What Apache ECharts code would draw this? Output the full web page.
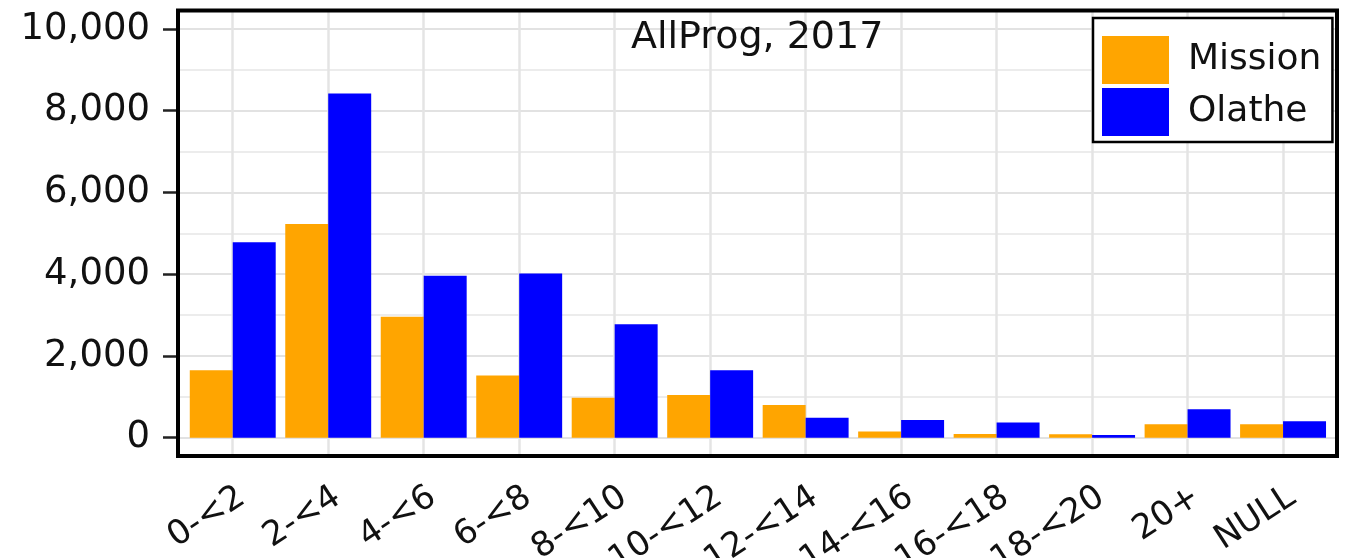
<!DOCTYPE html>
<html lang="en">
<head>
<meta charset="UTF-8">
<title>AllProg, 2017</title>
<script src="https://cdn.jsdelivr.net/npm/echarts@6/dist/echarts.min.js"></script>
<style>body{margin:0;background:#fff;}</style>
</head>
<body>
<div id="main" style="width:1345px;height:558px;"></div>
<script>
// data
var categories = ['0-<2', '2-<4', '4-<6', '6-<8', '8-<10', '10-<12', '12-<14', '14-<16', '16-<18', '18-<20', '20+', 'NULL'];
var mission = [1650, 5230, 2960, 1520, 980, 1045, 800, 150, 90, 85, 330, 330];
var olathe = [4780, 8420, 3960, 4020, 2775, 1650, 490, 435, 370, 65, 695, 400];
var seriesNames = ['Mission', 'Olathe'];

var font = 'DejaVu Sans';
var chart = echarts.init(document.getElementById('main'));

chart.setOption({
    animation: false,
    backgroundColor: '#fff',
    title: {
        text: 'AllProg, 2017',
        left: 631, top: 19, padding: 0,
        textStyle: {fontFamily: font, fontSize: 38, fontWeight: 'normal', color: '#111'}
    },
    legend: {
        data: seriesNames,
        orient: 'vertical',
        left: 1093, top: 18,
        itemWidth: 67, itemHeight: 48, itemGap: 4,
        padding: [18, 11, 6, 9],
        icon: 'rect',
        selectedMode: false,
        backgroundColor: '#fff',
        borderColor: '#000', borderWidth: 2.5,
        textStyle: {fontFamily: font, fontSize: 36, color: '#111', padding: [8, 0, 0, 14]}
    },
    grid: [
        {left: 185, right: 14.2, top: 29, bottom: 120.3, outerBoundsMode: 'none', containLabel: false},   // bars
        {left: 178, right: 8, top: 29, bottom: 120.3, outerBoundsMode: 'none', containLabel: false},      // horizontal grid lines
        {left: 232.7, right: 62, top: 10.5, bottom: 102, outerBoundsMode: 'none', containLabel: false}    // vertical grid lines
    ],
    xAxis: [
        {
            type: 'category', gridIndex: 0, data: categories,
            offset: 18.3,
            axisLine: {show: false},
            axisTick: {alignWithLabel: true, length: 10, lineStyle: {color: '#222', width: 2.5}},
            axisLabel: {interval: 0, rotate: 33, margin: 24, verticalAlign: 'top', fontFamily: font, fontSize: 34, color: '#111'},
            splitLine: {show: false}
        },
        {
            type: 'value', gridIndex: 1,
            axisLine: {show: false}, axisTick: {show: false}, axisLabel: {show: false}, splitLine: {show: false}
        },
        {
            type: 'category', gridIndex: 2, data: categories, boundaryGap: false,
            axisLine: {show: false}, axisTick: {show: false}, axisLabel: {show: false},
            splitLine: {show: true, interval: 0, lineStyle: {color: '#e4e4e4', width: 2.5}}
        }
    ],
    yAxis: [
        {
            type: 'value', gridIndex: 0, min: 0, max: 10000, interval: 2000,
            offset: 7,
            axisLine: {show: false},
            axisTick: {show: true, length: 15, lineStyle: {color: '#222', width: 2.5}},
            axisLabel: {
                margin: 28, fontFamily: font, fontSize: 37, color: '#111',
                formatter: function (v) { return v.toLocaleString('en-US'); }
            },
            splitLine: {show: false}
        },
        {
            type: 'value', gridIndex: 1, min: 0, max: 10000, interval: 1000,
            axisLine: {show: false}, axisTick: {show: false}, axisLabel: {show: false},
            splitLine: {show: true, lineStyle: {color: ['#e2e2e2', '#ececec'], width: 2}}
        },
        {
            type: 'value', gridIndex: 2,
            axisLine: {show: false}, axisTick: {show: false}, axisLabel: {show: false}, splitLine: {show: false}
        }
    ],
    series: [
        {
            name: seriesNames[0], type: 'bar', data: mission,
            xAxisIndex: 0, yAxisIndex: 0,
            barGap: '0%', barCategoryGap: '10%',
            itemStyle: {color: '#FFA500'}
        },
        {
            name: seriesNames[1], type: 'bar', data: olathe,
            xAxisIndex: 0, yAxisIndex: 0,
            barGap: '0%', barCategoryGap: '10%',
            itemStyle: {color: '#0000FF'}
        }
    ],
    graphic: [
        {
            type: 'rect', z: 100, silent: true,
            shape: {x: 178, y: 10.5, width: 1159, height: 445.5},
            style: {fill: 'none', stroke: '#000', lineWidth: 4}
        }
    ]
});
</script>
</body>
</html>
